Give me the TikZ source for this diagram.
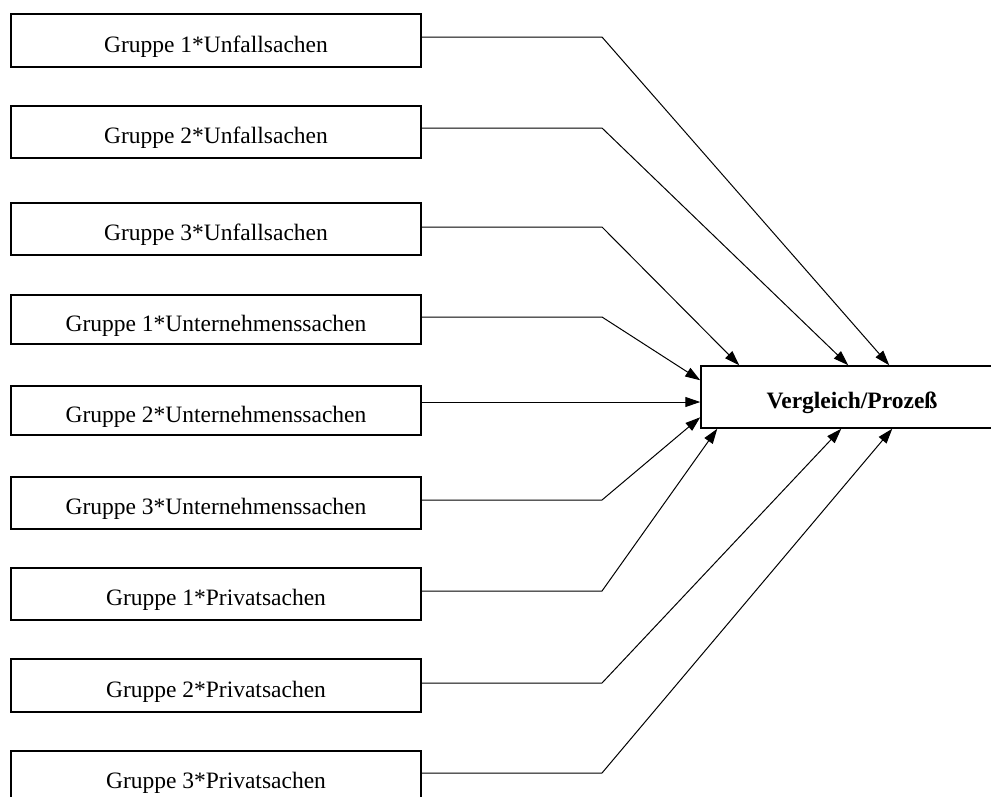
\documentclass[tikz,border=0pt]{standalone}
\usepackage{fontspec}
\setmainfont{Liberation Serif}
\usetikzlibrary{arrows.meta,calc}
\begin{document}
\begin{tikzpicture}[x=1pt,y=-1pt,
  srcbox/.style={draw, line width=1.2pt, minimum width=410pt, inner sep=0pt,
     font=\fontsize{23.5}{28}\selectfont, text height=23.5pt, text depth=0pt},
  tgtbox/.style={draw, line width=1.5pt, minimum width=302pt, minimum height=62pt, inner sep=0pt,
     font=\bfseries\fontsize{23.5}{28}\selectfont, text height=23.5pt, text depth=0pt},
  conn/.style={line width=1pt, -{Triangle[length=15pt,width=10pt]}}]
\useasboundingbox (0,0) rectangle (991,796);
\clip (0,0) rectangle (991,796);
\node[srcbox, minimum height=53pt] (b1) at (216,40.5) {Gruppe 1*Unfallsachen};
\node[srcbox, minimum height=52pt] (b2) at (216,132) {Gruppe 2*Unfallsachen};
\node[srcbox, minimum height=52pt] (b3) at (216,229) {Gruppe 3*Unfallsachen};
\node[srcbox, minimum height=49pt] (b4) at (216,319.5) {Gruppe 1*Unternehmenssachen};
\node[srcbox, minimum height=49pt] (b5) at (216,410.5) {Gruppe 2*Unternehmenssachen};
\node[srcbox, minimum height=52pt] (b6) at (216,503) {Gruppe 3*Unternehmenssachen};
\node[srcbox, minimum height=52pt] (b7) at (216,594) {Gruppe 1*Privatsachen};
\node[srcbox, minimum height=53pt] (b8) at (216,685.5) {Gruppe 2*Privatsachen};
\node[srcbox, minimum height=52pt] (b9) at (216,777) {Gruppe 3*Privatsachen};
\node[tgtbox] (t) at (852,397) {Vergleich/Prozeß};
\coordinate (k1) at (602,37);
\coordinate (k2) at (602,128);
\coordinate (k3) at (602,227);
\coordinate (k4) at (602,317);
\coordinate (k5) at (602,402);
\coordinate (k6) at (602,500);
\coordinate (k7) at (602,591);
\coordinate (k8) at (602,683);
\coordinate (k9) at (602,773);
\draw[conn] (b1.east |- k1) -- (k1) -- ($(t.north west)+(189,0)$);
\draw[conn] (b2.east |- k2) -- (k2) -- ($(t.north west)+(148,0)$);
\draw[conn] (b3.east |- k3) -- (k3) -- ($(t.north west)+(39,0)$);
\draw[conn] (b4.east |- k4) -- (k4) -- ($(t.north west)+(0,15)$);
\draw[conn] (b5.east |- k5) -- (t.west |- k5);
\draw[conn] (b6.east |- k6) -- (k6) -- ($(t.north west)+(0,52)$);
\draw[conn] (b7.east |- k7) -- (k7) -- ($(t.south west)+(17,0)$);
\draw[conn] (b8.east |- k8) -- (k8) -- ($(t.south west)+(141,0)$);
\draw[conn] (b9.east |- k9) -- (k9) -- ($(t.south west)+(192,0)$);
\end{tikzpicture}
\end{document}
